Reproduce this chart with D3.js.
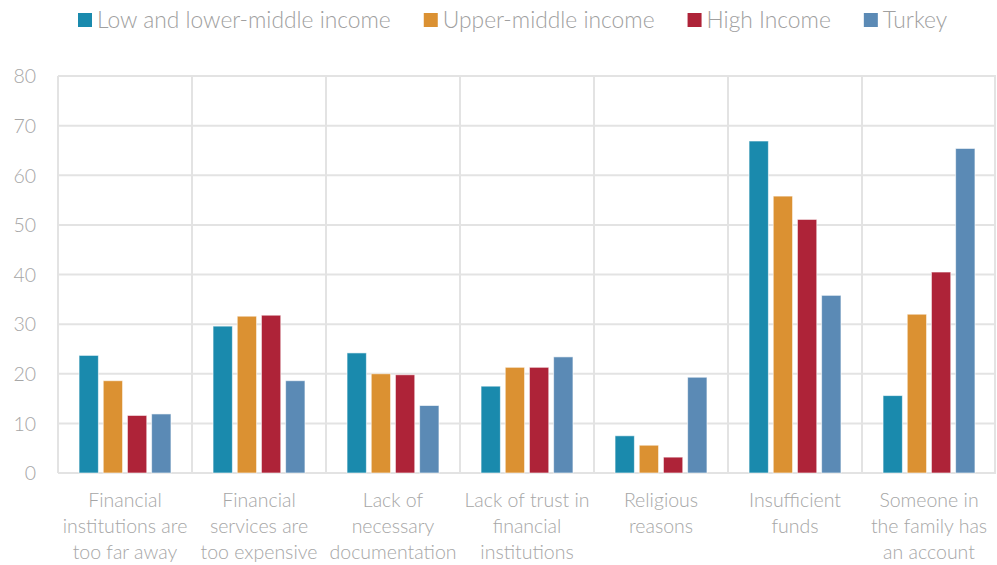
<!DOCTYPE html>
<html>
<head>
<meta charset="utf-8">
<script src="https://cdn.jsdelivr.net/npm/d3@7"></script>
<style>
  html, body { margin: 0; padding: 0; background: #fff; }
  svg { display: block; font-family: "Lato", "Open Sans", sans-serif; font-weight: 300; }
</style>
</head>
<body>
<svg id="chart" width="997" height="565"></svg>
<script>
// Reasons for not having an account (% of adults without an account)
const categories = [
  ["Financial", "institutions are", "too far away"],
  ["Financial", "services are", "too expensive"],
  ["Lack of", "necessary", "documentation"],
  ["Lack of trust in", "financial", "institutions"],
  ["Religious", "reasons"],
  ["Insufficient", "funds"],
  ["Someone in", "the family has", "an account"]
];
const seriesNames = ["Low and lower-middle income", "Upper-middle income", "High Income", "Turkey"];
const lowLowerMiddle = [23.7, 29.6, 24.2, 17.5, 7.5, 66.9, 15.6];
const upperMiddle    = [18.6, 31.6, 20.0, 21.3, 5.6, 55.8, 32.0];
const highIncome     = [11.6, 31.8, 19.8, 21.3, 3.2, 51.1, 40.5];
const turkey         = [11.9, 18.6, 13.6, 23.4, 19.3, 35.8, 65.4];
const seriesValues = [lowLowerMiddle, upperMiddle, highIncome, turkey];
const colors = ["#1a8aad", "#db9132", "#ae2338", "#5b8ab5"];
const yTicks = [0, 10, 20, 30, 40, 50, 60, 70, 80];

const svg = d3.select("#chart");
const margin = { left: 58, right: 1, top: 76, bottom: 92 };
const W = 997, H = 565;
const plotL = margin.left, plotR = W - margin.right;
const plotT = margin.top, plotB = H - margin.bottom;

const x0 = d3.scaleBand().domain(d3.range(categories.length)).range([plotL, plotR]).padding(0);
const x1 = d3.scaleBand().domain(d3.range(seriesNames.length))
  .range([x0.bandwidth() * 0.157, x0.bandwidth() * 0.843]).paddingInner(0.2).paddingOuter(0);
const y = d3.scaleLinear().domain([0, 80]).range([plotB, plotT]);

const gridColor = "#e3e3e3";
const textColor = "#a6a6a6";

// horizontal gridlines
svg.append("g").selectAll("line").data(yTicks).join("line")
  .attr("x1", plotL).attr("x2", plotR)
  .attr("y1", d => y(d)).attr("y2", d => y(d))
  .attr("stroke", gridColor).attr("stroke-width", 2);

// vertical category separators
const seps = d3.range(categories.length + 1).map(i => i < categories.length ? x0(i) : plotR - 1);
svg.append("g").selectAll("line").data(seps).join("line")
  .attr("x1", d => d).attr("x2", d => d)
  .attr("y1", plotT).attr("y2", plotB)
  .attr("stroke", gridColor).attr("stroke-width", 2);

// y axis labels
const yAxis = d3.axisLeft(y).tickValues(yTicks).tickSize(0).tickPadding(0);
const gy = svg.append("g").attr("transform", `translate(${plotL - 22},0)`).call(yAxis);
gy.select(".domain").remove();
gy.selectAll("text").attr("fill", textColor).style("font-size", "19.5px")
  .style("font-family", "Lato, sans-serif").style("font-weight", 300).attr("dy", "0.35em");

// bars
const groups = svg.append("g").selectAll("g").data(categories).join("g")
  .attr("transform", (d, i) => `translate(${x0(i)},0)`);
groups.selectAll("rect")
  .data((d, i) => seriesValues.map((vals, s) => ({ s, v: vals[i] })))
  .join("rect")
  .attr("x", d => x1(d.s))
  .attr("width", x1.bandwidth())
  .attr("y", d => y(d.v))
  .attr("height", d => y(0) - y(d.v))
  .attr("fill", d => colors[d.s])
  .attr("stroke", "#ffffff").attr("stroke-opacity", 0.6).attr("stroke-width", 1);

// category labels
const lab = svg.append("g").selectAll("text").data(categories).join("text")
  .attr("text-anchor", "middle")
  .attr("fill", textColor)
  .style("font-size", "19.5px")
  .attr("transform", (d, i) => `translate(${x0(i) + x0.bandwidth() / 2},${plotB + 34})`);
lab.selectAll("tspan").data(d => d).join("tspan")
  .attr("x", 0).attr("dy", (d, i) => i === 0 ? 0 : 26).text(d => d);

// legend
const legend = svg.append("g").attr("transform", "translate(78,20)");
let lx = 0;
seriesNames.forEach((name, i) => {
  legend.append("rect").attr("x", lx).attr("y", -7).attr("width", 14).attr("height", 14).attr("fill", colors[i]);
  const t = legend.append("text").attr("x", lx + 19).attr("y", 0).attr("dy", "0.35em")
    .attr("fill", "#a0a0a0").style("font-size", "22.8px").text(name);
  lx += 19 + t.node().getComputedTextLength() + 33;
});
</script>
</body>
</html>
